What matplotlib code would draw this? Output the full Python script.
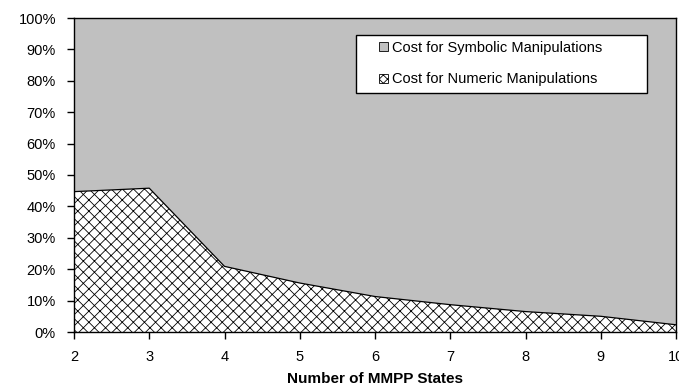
import matplotlib
matplotlib.use("Agg")
import matplotlib.pyplot as plt
from matplotlib.patches import Patch, Rectangle
from matplotlib.ticker import PercentFormatter

# data (percent of total cost)
states = [2, 3, 4, 5, 6, 7, 8, 9, 10]
numeric_cost = [44.7, 45.8, 20.9, 15.6, 11.3, 8.7, 6.5, 5.0, 2.3]
symbolic_cost = [55.3, 54.2, 79.1, 84.4, 88.7, 91.3, 93.5, 95.0, 97.7]
labels = ["Cost for Symbolic Manipulations", "Cost for Numeric Manipulations"]

plt.rcParams['font.family'] = ['Liberation Sans', 'DejaVu Sans']
plt.rcParams['hatch.linewidth'] = 0.6

W, H = 679, 390
fig = plt.figure(figsize=(W / 100, H / 100), dpi=100, facecolor="white")
ax = fig.add_axes([74 / W, 1 - 332 / H, (676 - 74) / W, (332 - 18) / H])

total = [n + s for n, s in zip(numeric_cost, symbolic_cost)]
num_pct = [100 * n / t for n, t in zip(numeric_cost, total)]

ax.fill_between(states, 0, num_pct, facecolor="white", edgecolor="black",
                hatch="xxx", linewidth=0)
ax.fill_between(states, num_pct, 100, facecolor="#C0C0C0", linewidth=0)
ax.plot(states, num_pct, color="black", linewidth=0.9)

ax.set_xlim(2, 10)
ax.set_ylim(0, 100)
ax.set_xticks(states)
ax.set_yticks(range(0, 101, 10))
ax.yaxis.set_major_formatter(PercentFormatter(decimals=0))
ax.tick_params(direction="out", length=5, width=1, labelsize=10.5, pad=8)

for sp in ax.spines.values():
    sp.set_color("black")
    sp.set_linewidth(1)

ax.set_xlabel("Number of MMPP States", fontsize=11, fontweight="bold", labelpad=6)

# legend box (Excel style: wider than its contents)
fig.patches.append(Rectangle((356 / W, 1 - 93 / H), (647 - 356) / W, (93 - 35) / H,
                             transform=fig.transFigure, facecolor="white",
                             edgecolor="black", linewidth=1, zorder=5))

handles = [Patch(facecolor="#C0C0C0", edgecolor="black", linewidth=0.6),
           Patch(facecolor="white", edgecolor="black", hatch="xxxx", linewidth=0.6)]
leg = fig.legend(handles, labels, loc="upper left",
                 bbox_to_anchor=(379 / W, 1 - 41 / H), bbox_transform=fig.transFigure,
                 fontsize=10.5, frameon=False, handlelength=0.6, handleheight=0.6,
                 handletextpad=0.3, labelspacing=1.2, borderpad=0, borderaxespad=0)
leg.set_zorder(6)

fig.savefig("out.png", dpi=100)
